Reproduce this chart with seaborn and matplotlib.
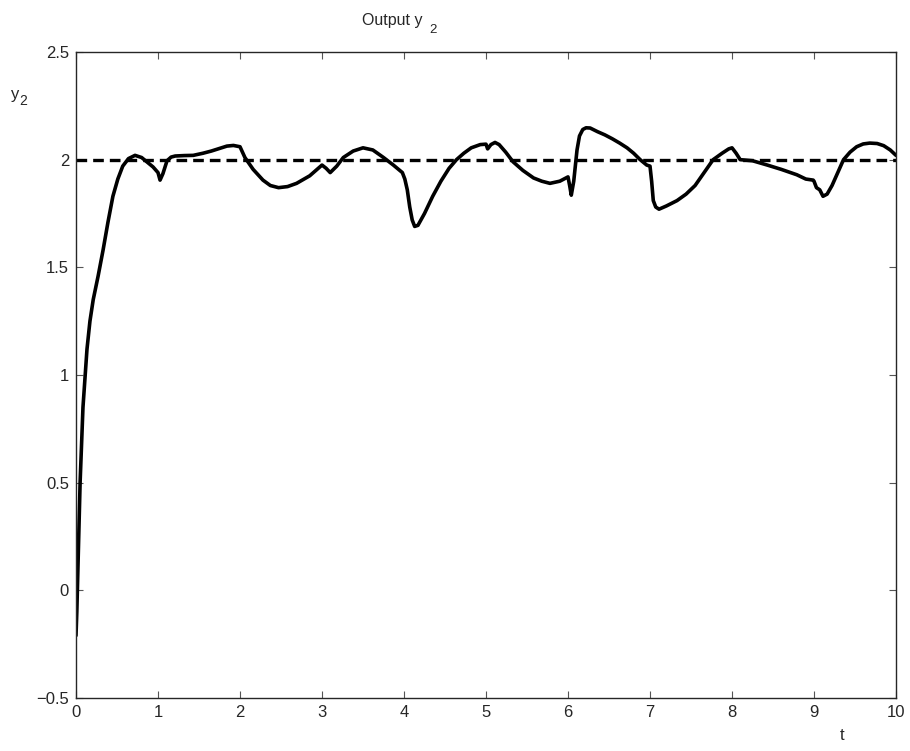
import numpy as np
import pandas as pd
import matplotlib
matplotlib.use("Agg")
import matplotlib.pyplot as plt
import seaborn as sns

# output y2
t_vals = [0.0, 0.01, 0.03, 0.05, 0.085, 0.134, 0.17, 0.21, 0.27, 0.33, 0.39, 0.45, 0.51,
          0.57, 0.64, 0.72, 0.8, 0.88, 0.94, 1.0, 1.025, 1.06, 1.11, 1.16, 1.21, 1.32,
          1.43, 1.55, 1.65, 1.75, 1.84, 1.92, 2.0, 2.06, 2.16, 2.28, 2.37, 2.47, 2.58,
          2.69, 2.85, 3.0, 3.05, 3.1, 3.18, 3.26, 3.38, 3.5, 3.62, 3.75, 3.87, 3.98,
          4.01, 4.04, 4.07, 4.1, 4.13, 4.17, 4.25, 4.35, 4.45, 4.55, 4.64, 4.73, 4.82,
          4.93, 5.0, 5.02, 5.06, 5.11, 5.16, 5.24, 5.33, 5.45, 5.58, 5.68, 5.78, 5.9,
          6.0, 6.02, 6.04, 6.07, 6.11, 6.14, 6.18, 6.22, 6.27, 6.36, 6.45, 6.54, 6.63,
          6.72, 6.8, 6.88, 6.96, 7.0, 7.02, 7.04, 7.07, 7.11, 7.2, 7.33, 7.44, 7.55,
          7.66, 7.77, 7.88, 7.96, 8.0, 8.05, 8.1, 8.25, 8.43, 8.6, 8.79, 8.9, 8.99,
          9.0, 9.03, 9.07, 9.11, 9.16, 9.22, 9.29, 9.36, 9.44, 9.52, 9.6, 9.68, 9.77,
          9.85, 9.93, 10.0]
y_vals = [-0.21, -0.1, 0.2, 0.5, 0.85, 1.12, 1.25, 1.35, 1.46, 1.58, 1.71, 1.83, 1.91,
          1.97, 2.005, 2.02, 2.01, 1.985, 1.966, 1.94, 1.905, 1.935, 1.995, 2.012, 2.017,
          2.019, 2.02, 2.03, 2.04, 2.052, 2.063, 2.066, 2.06, 2.01, 1.955, 1.905, 1.88,
          1.87, 1.875, 1.89, 1.925, 1.975, 1.96, 1.94, 1.97, 2.01, 2.04, 2.055, 2.045,
          2.01, 1.975, 1.94, 1.91, 1.86, 1.78, 1.72, 1.69, 1.695, 1.75, 1.83, 1.9, 1.96,
          2.0, 2.03, 2.055, 2.07, 2.072, 2.05, 2.07, 2.08, 2.07, 2.035, 1.99, 1.95, 1.915,
          1.9, 1.89, 1.9, 1.92, 1.88, 1.835, 1.9, 2.045, 2.11, 2.14, 2.148, 2.147, 2.13,
          2.115, 2.097, 2.077, 2.055, 2.03, 2.0, 1.975, 1.97, 1.9, 1.81, 1.78, 1.77,
          1.785, 1.81, 1.84, 1.88, 1.94, 2.0, 2.03, 2.05, 2.055, 2.03, 2.0, 1.995, 1.975,
          1.955, 1.93, 1.91, 1.905, 1.9, 1.87, 1.86, 1.83, 1.84, 1.88, 1.94, 2.0, 2.035,
          2.06, 2.073, 2.077, 2.075, 2.065, 2.045, 2.02]
ref_value = 2.0

df = pd.DataFrame({"t": t_vals, "y2": y_vals})
ref = pd.DataFrame({"t": [0.0, 10.0], "y2": [ref_value, ref_value]})

sns.set_style("ticks")
plt.rcParams["font.family"] = ["Liberation Sans", "DejaVu Sans"]

fig = plt.figure(figsize=(9.1, 7.51), dpi=100)
ax = fig.add_axes([76 / 910, 1 - 698 / 751, 820 / 910, 646 / 751])

sns.lineplot(data=df, x="t", y="y2", ax=ax, color="black", linewidth=2.6,
             estimator=None, sort=False)
sns.lineplot(data=ref, x="t", y="y2", ax=ax, color="black", linewidth=2.4,
             linestyle=(0, (3.2, 1.8)), estimator=None)

ax.set_xlim(0, 10)
ax.set_ylim(-0.5, 2.5)
ax.set_xticks(np.arange(0, 11, 1))
ax.set_yticks(np.arange(-0.5, 2.51, 0.5))
ax.set_yticklabels(["\u22120.5", "0", "0.5", "1", "1.5", "2", "2.5"])
ax.tick_params(direction="in", top=True, right=True, length=5, width=0.8,
               labelsize=12, color="#555555", pad=5)
for s in ax.spines.values():
    s.set_linewidth(1.0)
ax.set_xlabel("")
ax.set_ylabel("")

# MATLAB-style labels with low subscripts
fig.text(362 / 910, 1 - 20 / 751, "Output y", ha="left", va="center", fontsize=11.5)
fig.text(433 / 910, 1 - 30 / 751, "2", ha="center", va="center", fontsize=9.5)
fig.text(15 / 910, 1 - 95 / 751, "y", ha="center", va="center", fontsize=12)
fig.text(23 / 910, 1 - 101 / 751, "2", ha="center", va="center", fontsize=10)
fig.text(842 / 910, 1 - 735 / 751, "t", ha="center", va="center", fontsize=12)

fig.savefig("out.png", dpi=100)
